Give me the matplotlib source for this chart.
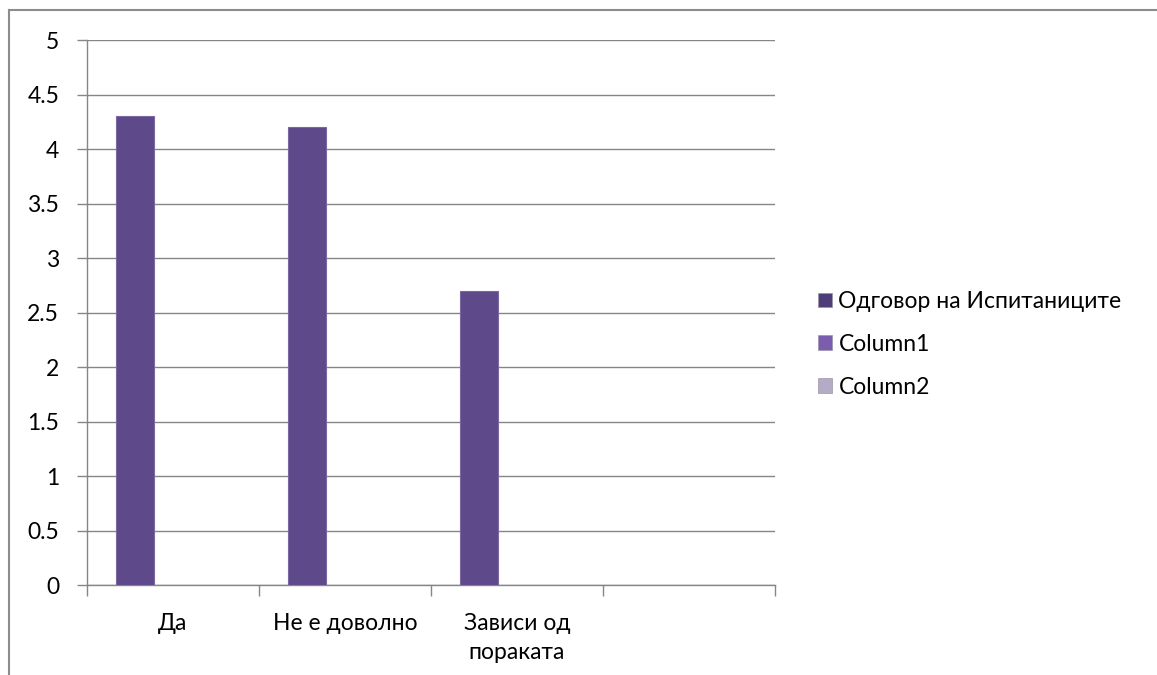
import matplotlib
matplotlib.use("Agg")
import matplotlib.pyplot as plt
from matplotlib.lines import Line2D
from matplotlib.patches import Patch
import numpy as np

plt.rcParams["font.family"] = ["Lato", "Noto Sans", "DejaVu Sans"]

categories = ["Да", "Не е доволно", "Зависи од\nпоракатa".replace("a", "а"), ""]
series_names = ["Одговор на Испитаниците", "Column1", "Column2"]
answers = [4.3, 4.2, 2.7, None]
column1 = [None, None, None, None]
column2 = [None, None, None, None]
yticks = [0, 0.5, 1, 1.5, 2, 2.5, 3, 3.5, 4, 4.5, 5]

colors = ["#5e4a8a", "#7b5daf", "#b4abc6"]
legend_colors = ["#4f3d77", "#7b5daf", "#b4abc6"]
FS = 16.5

fig = plt.figure(figsize=(11.57, 6.75), dpi=100)
ax = fig.add_axes([0.0752, 0.1333, 0.5946, 0.8074])

x = np.arange(len(categories))
w = 1 / 4.5
for i, vals in enumerate([answers, column1, column2]):
    h = np.array([np.nan if v is None else v for v in vals], dtype=float)
    ax.bar(x + (i - 1) * w, h, w, color=colors[i], edgecolor="#7a68a3",
           linewidth=0.8, zorder=3)

ax.set_xlim(-0.5, len(categories) - 0.5)
ax.set_ylim(0, 5)
ax.set_yticks(yticks)
ax.set_yticklabels([f"{t:g}" for t in yticks], fontsize=FS)
ax.yaxis.grid(True, color="#868686", linewidth=1.0, zorder=0)
ax.tick_params(axis="y", length=7, width=1, color="#868686", pad=13)

# category boundaries as ticks, labels at centres
ax.set_xticks(np.arange(len(categories) + 1) - 0.5)
ax.set_xticklabels([])
ax.tick_params(axis="x", which="major", length=8, width=1, color="#868686")
ax.set_xticks(x, minor=True)
ax.set_xticklabels(categories, minor=True, fontsize=FS, linespacing=1.5)
ax.tick_params(axis="x", which="minor", length=0, pad=20)

for s in ["top", "right"]:
    ax.spines[s].set_visible(False)
for s in ["left", "bottom"]:
    ax.spines[s].set_color("#868686")
    ax.spines[s].set_linewidth(1.0)

handles = [Patch(facecolor=c, edgecolor="#9a94a8", linewidth=0.5) for c in legend_colors]
fig.legend(handles, series_names, loc="center left", bbox_to_anchor=(0.689, 0.49),
           frameon=False, fontsize=FS, handlelength=0.6, handleheight=0.6,
           handletextpad=0.3, labelspacing=0.95)

# outer chart frame (partially visible)
fig.add_artist(Line2D([9 / 1157, 1], [1 - 10 / 675, 1 - 10 / 675],
                      transform=fig.transFigure, color="#8c8c8c", linewidth=1.5))
fig.add_artist(Line2D([9 / 1157, 9 / 1157], [0, 1 - 10 / 675],
                      transform=fig.transFigure, color="#8c8c8c", linewidth=1.5))

fig.savefig("out.png", dpi=100)
